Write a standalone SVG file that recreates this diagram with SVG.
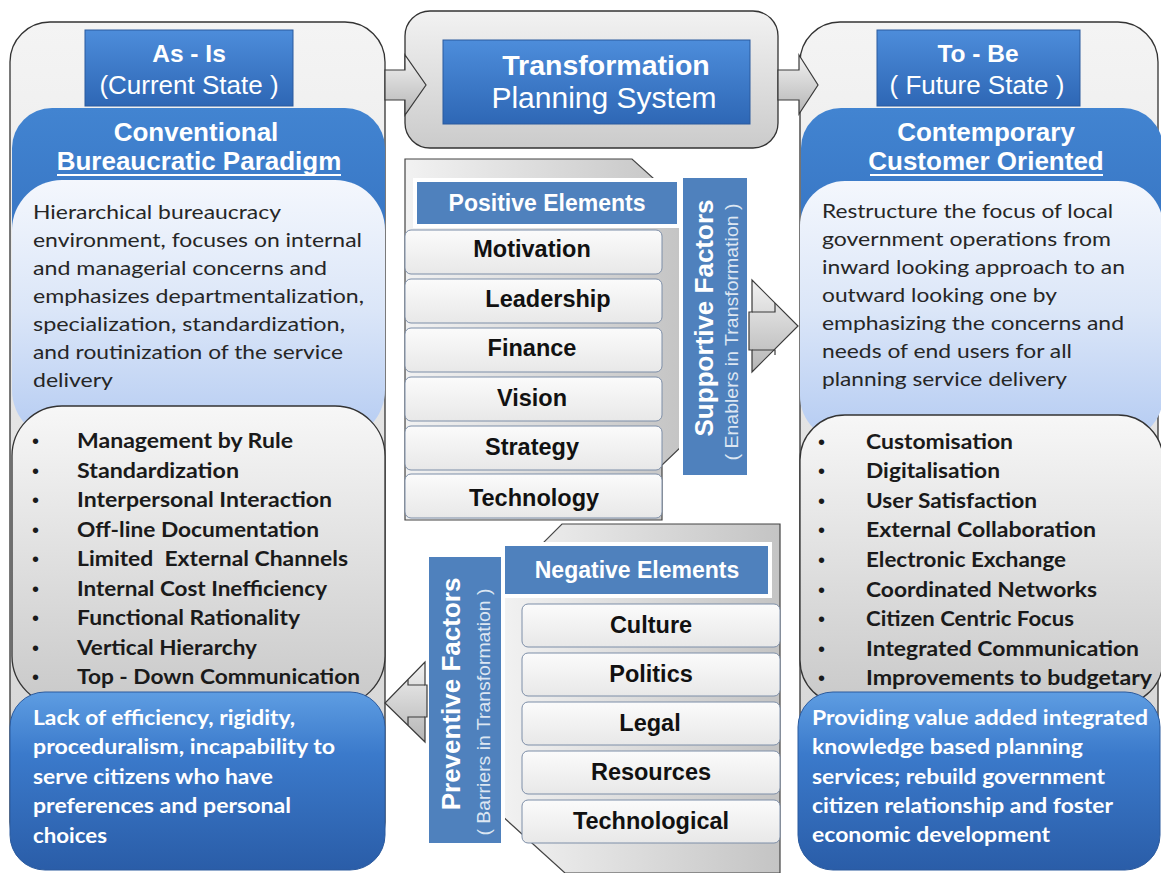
<svg xmlns="http://www.w3.org/2000/svg" width="1161" height="873" viewBox="0 0 1161 873">
<defs>
<linearGradient id="gOuter" x1="0" y1="0" x2="0" y2="1"><stop offset="0" stop-color="#f4f4f4"/><stop offset="1" stop-color="#d2d2d2"/></linearGradient>
<linearGradient id="gTop" x1="0" y1="0" x2="0" y2="1"><stop offset="0" stop-color="#f2f2f2"/><stop offset="1" stop-color="#cbcbcb"/></linearGradient>
<linearGradient id="gBlue" x1="0" y1="0" x2="0" y2="1"><stop offset="0" stop-color="#4d8ddb"/><stop offset="1" stop-color="#2e67b5"/></linearGradient>
<linearGradient id="gPanel" x1="0" y1="0" x2="0" y2="1"><stop offset="0" stop-color="#4284d1"/><stop offset="1" stop-color="#3572c0"/></linearGradient>
<linearGradient id="gLight" x1="0" y1="0" x2="0" y2="1"><stop offset="0" stop-color="#f4f7fd"/><stop offset="0.5" stop-color="#dbe6f8"/><stop offset="1" stop-color="#b4cbf2"/></linearGradient>
<linearGradient id="gGray" x1="0" y1="0" x2="0" y2="1"><stop offset="0" stop-color="#f7f7f7"/><stop offset="1" stop-color="#c9c9c9"/></linearGradient>
<linearGradient id="gBox" x1="0" y1="0" x2="0" y2="1"><stop offset="0" stop-color="#5e9de2"/><stop offset="0.35" stop-color="#3b7acb"/><stop offset="1" stop-color="#2a5da8"/></linearGradient>
<linearGradient id="gElem" x1="0" y1="0" x2="0" y2="1"><stop offset="0" stop-color="#fbfbfb"/><stop offset="1" stop-color="#e8e8e8"/></linearGradient>
<linearGradient id="gBack" x1="0" y1="0" x2="1" y2="0"><stop offset="0" stop-color="#f2f2f2"/><stop offset="1" stop-color="#c4c4c4"/></linearGradient>
<linearGradient id="gArrow" x1="0" y1="0" x2="0" y2="1"><stop offset="0" stop-color="#f2f2f2"/><stop offset="1" stop-color="#b5b5b5"/></linearGradient>
</defs>
<style>
.ar{font-family:"Liberation Sans",Arial,sans-serif}
.b{font-weight:bold}
.w{fill:#ffffff}
.k{fill:#111111}
.c{text-anchor:middle}
.body{font-family:Lato,"Liberation Sans",sans-serif;font-size:20px;fill:#262626}
.list{font-family:Lato,"Liberation Sans",sans-serif;font-size:21px;font-weight:bold;fill:#1a1a1a}
.bul{font-family:"Liberation Sans",Arial,sans-serif;font-size:20px;fill:#1a1a1a}
.btm{font-family:Lato,"Liberation Sans",sans-serif;font-size:21px;font-weight:bold;fill:#ffffff}
.elem{fill:url(#gElem);stroke:#7d8ea8;stroke-width:1}
.hdr{fill:#4f81bd;stroke:#ffffff;stroke-width:4}
.arrow{fill:url(#gArrow);stroke:#3a3a3a;stroke-width:1.2;stroke-linejoin:miter}
.notch{fill:none;stroke:#3a3a3a;stroke-width:1.2}
</style>

<g id="as-is">
<rect x="10" y="22" width="375" height="840" rx="40" fill="url(#gOuter)" stroke="#333" stroke-width="1.3"/>
<rect x="85" y="30" width="208" height="76" fill="url(#gBlue)" stroke="#2a5a9e"/>
<text class="ar b w c" x="189" y="62" font-size="24.5">As - Is</text>
<text class="ar w c" x="189" y="94" font-size="26">(Current State )</text>
<rect x="12" y="108" width="373" height="160" rx="40" fill="url(#gPanel)"/>
<text class="ar b w c" x="196" y="141" font-size="26">Conventional</text>
<text class="ar b w c" x="199" y="170" font-size="26">Bureaucratic Paradigm</text>
<line x1="57" y1="175" x2="341" y2="175" stroke="#ffffff" stroke-width="2"/>
<rect x="12" y="180" width="373" height="260" rx="50" fill="url(#gLight)"/>
<text class="body" x="33" y="219" textLength="248" lengthAdjust="spacingAndGlyphs">Hierarchical bureaucracy</text>
<text class="body" x="33" y="247" textLength="329" lengthAdjust="spacingAndGlyphs">environment, focuses on internal</text>
<text class="body" x="33" y="275" textLength="294" lengthAdjust="spacingAndGlyphs">and managerial concerns and</text>
<text class="body" x="33" y="303" textLength="331" lengthAdjust="spacingAndGlyphs">emphasizes departmentalization,</text>
<text class="body" x="33" y="331" textLength="312" lengthAdjust="spacingAndGlyphs">specialization, standardization,</text>
<text class="body" x="33" y="359" textLength="310" lengthAdjust="spacingAndGlyphs">and routinization of the service</text>
<text class="body" x="33" y="387" textLength="80" lengthAdjust="spacingAndGlyphs">delivery</text>
<rect x="12" y="406" width="373" height="300" rx="50" fill="url(#gGray)" stroke="#333" stroke-width="1.3"/>
<text class="bul" x="32" y="448">•</text>
<text class="bul" x="32" y="478">•</text>
<text class="bul" x="32" y="507">•</text>
<text class="bul" x="32" y="537">•</text>
<text class="bul" x="32" y="566">•</text>
<text class="bul" x="32" y="596">•</text>
<text class="bul" x="32" y="625">•</text>
<text class="bul" x="32" y="655">•</text>
<text class="bul" x="32" y="684">•</text>
<text class="list" x="77" y="448" textLength="216" lengthAdjust="spacingAndGlyphs">Management by Rule</text>
<text class="list" x="77" y="478" textLength="162" lengthAdjust="spacingAndGlyphs">Standardization</text>
<text class="list" x="77" y="507" textLength="255" lengthAdjust="spacingAndGlyphs">Interpersonal Interaction</text>
<text class="list" x="77" y="537" textLength="242" lengthAdjust="spacingAndGlyphs">Off-line Documentation</text>
<text class="list" x="77" y="566" textLength="271" lengthAdjust="spacingAndGlyphs">Limited&#160; External Channels</text>
<text class="list" x="77" y="596" textLength="250" lengthAdjust="spacingAndGlyphs">Internal Cost Inefficiency</text>
<text class="list" x="77" y="625" textLength="223" lengthAdjust="spacingAndGlyphs">Functional Rationality</text>
<text class="list" x="77" y="655" textLength="180" lengthAdjust="spacingAndGlyphs">Vertical Hierarchy</text>
<text class="list" x="77" y="684" textLength="283" lengthAdjust="spacingAndGlyphs">Top - Down Communication</text>
<rect x="10" y="692" width="375" height="178" rx="35" fill="url(#gBox)" stroke="#2a5a9e"/>
<text class="btm" x="33" y="725" textLength="262" lengthAdjust="spacingAndGlyphs">Lack of efficiency, rigidity,</text>
<text class="btm" x="33" y="754" textLength="302" lengthAdjust="spacingAndGlyphs">proceduralism, incapability to</text>
<text class="btm" x="33" y="784" textLength="240" lengthAdjust="spacingAndGlyphs">serve citizens who have</text>
<text class="btm" x="33" y="813" textLength="258" lengthAdjust="spacingAndGlyphs">preferences and personal</text>
<text class="btm" x="33" y="843" textLength="74" lengthAdjust="spacingAndGlyphs">choices</text>
</g>

<g id="to-be">
<rect x="800" y="22" width="358" height="840" rx="40" fill="url(#gOuter)" stroke="#333" stroke-width="1.3"/>
<rect x="877" y="30" width="203" height="76" fill="url(#gBlue)" stroke="#2a5a9e"/>
<text class="ar b w c" x="978" y="62" font-size="24.5">To - Be</text>
<text class="ar w c" x="977" y="94" font-size="26">( Future State )</text>
<rect x="801" y="108" width="362" height="160" rx="40" fill="url(#gPanel)"/>
<text class="ar b w c" x="986" y="141" font-size="26">Contemporary</text>
<text class="ar b w c" x="986" y="170" font-size="26">Customer Oriented</text>
<line x1="870" y1="175" x2="1103" y2="175" stroke="#ffffff" stroke-width="2"/>
<rect x="800" y="181" width="363" height="260" rx="45" fill="url(#gLight)"/>
<text class="body" x="822" y="218" textLength="291" lengthAdjust="spacingAndGlyphs">Restructure the focus of local</text>
<text class="body" x="822" y="246" textLength="289" lengthAdjust="spacingAndGlyphs">government operations from</text>
<text class="body" x="822" y="274" textLength="303" lengthAdjust="spacingAndGlyphs">inward looking approach to an</text>
<text class="body" x="822" y="302" textLength="235" lengthAdjust="spacingAndGlyphs">outward looking one by</text>
<text class="body" x="822" y="330" textLength="302" lengthAdjust="spacingAndGlyphs">emphasizing the concerns and</text>
<text class="body" x="822" y="358" textLength="250" lengthAdjust="spacingAndGlyphs">needs of end users for all</text>
<text class="body" x="822" y="386" textLength="245" lengthAdjust="spacingAndGlyphs">planning service delivery</text>
<rect x="800" y="415" width="363" height="290" rx="45" fill="url(#gGray)" stroke="#333" stroke-width="1.3"/>
<text class="bul" x="818" y="449">•</text>
<text class="bul" x="818" y="478">•</text>
<text class="bul" x="818" y="508">•</text>
<text class="bul" x="818" y="537">•</text>
<text class="bul" x="818" y="567">•</text>
<text class="bul" x="818" y="597">•</text>
<text class="bul" x="818" y="626">•</text>
<text class="bul" x="818" y="656">•</text>
<text class="bul" x="818" y="685">•</text>
<text class="list" x="866" y="449" textLength="147" lengthAdjust="spacingAndGlyphs">Customisation</text>
<text class="list" x="866" y="478" textLength="134" lengthAdjust="spacingAndGlyphs">Digitalisation</text>
<text class="list" x="866" y="508" textLength="171" lengthAdjust="spacingAndGlyphs">User Satisfaction</text>
<text class="list" x="866" y="537" textLength="230" lengthAdjust="spacingAndGlyphs">External Collaboration</text>
<text class="list" x="866" y="567" textLength="200" lengthAdjust="spacingAndGlyphs">Electronic Exchange</text>
<text class="list" x="866" y="597" textLength="231" lengthAdjust="spacingAndGlyphs">Coordinated Networks</text>
<text class="list" x="866" y="626" textLength="208" lengthAdjust="spacingAndGlyphs">Citizen Centric Focus</text>
<text class="list" x="866" y="656" textLength="273" lengthAdjust="spacingAndGlyphs">Integrated Communication</text>
<text class="list" x="866" y="685" textLength="286" lengthAdjust="spacingAndGlyphs">Improvements to budgetary</text>
<rect x="798" y="692" width="362" height="178" rx="35" fill="url(#gBox)" stroke="#2a5a9e"/>
<text class="btm" x="812" y="725" textLength="336" lengthAdjust="spacingAndGlyphs">Providing value added integrated</text>
<text class="btm" x="812" y="754" textLength="271" lengthAdjust="spacingAndGlyphs">knowledge based planning</text>
<text class="btm" x="812" y="784" textLength="293" lengthAdjust="spacingAndGlyphs">services; rebuild government</text>
<text class="btm" x="812" y="813" textLength="301" lengthAdjust="spacingAndGlyphs">citizen relationship and foster</text>
<text class="btm" x="812" y="842" textLength="238" lengthAdjust="spacingAndGlyphs">economic development</text>
</g>

<g id="transformation">
<rect x="405" y="11" width="373" height="137" rx="25" fill="url(#gTop)" stroke="#333" stroke-width="1.3"/>
<rect x="443" y="40" width="307" height="84" fill="url(#gBlue)" stroke="#2a5a9e"/>
<text class="ar b w c" x="606" y="75" font-size="28.5">Transformation</text>
<text class="ar w c" x="604" y="108" font-size="30">Planning System</text>
</g>

<g id="positive-elements">
<polygon points="405,159 632,159 683,205 683,445 662,465 662,520 405,520" fill="url(#gBack)" stroke="#444" stroke-width="1.2"/>
<rect class="elem" x="405" y="230" width="257" height="44" rx="6"/>
<rect class="elem" x="405" y="279" width="257" height="44" rx="6"/>
<rect class="elem" x="405" y="328" width="257" height="44" rx="6"/>
<rect class="elem" x="405" y="377" width="257" height="44" rx="6"/>
<rect class="elem" x="405" y="426" width="257" height="44" rx="6"/>
<rect class="elem" x="405" y="474" width="257" height="44" rx="6"/>
<rect class="hdr" x="415" y="180" width="264" height="46"/>
<text class="ar b w c" x="547" y="211" font-size="23">Positive Elements</text>
<text class="ar b k c" x="532" y="257" font-size="23.5">Motivation</text>
<text class="ar b k c" x="548" y="307" font-size="23.5">Leadership</text>
<text class="ar b k c" x="532" y="356" font-size="23.5">Finance</text>
<text class="ar b k c" x="532" y="406" font-size="23.5">Vision</text>
<text class="ar b k c" x="532" y="455" font-size="23.5">Strategy</text>
<text class="ar b k c" x="534" y="506" font-size="23.5">Technology</text>
</g>

<g id="supportive-factors">
<rect class="hdr" x="681" y="176" width="68" height="301"/>
<text class="ar b w c" transform="translate(713,318) rotate(-90)" font-size="26">Supportive Factors</text>
<text class="ar c" transform="translate(738,332) rotate(-90)" font-size="19" fill="#dce6f2" textLength="257" lengthAdjust="spacingAndGlyphs">( Enablers in Transformation  )</text>
</g>

<g id="negative-elements">
<polygon points="501,585 562,524 780,524 780,873 565,873 501,815" fill="url(#gBack)" stroke="#444" stroke-width="1.2"/>
<rect class="elem" x="522" y="604" width="258" height="43" rx="6"/>
<rect class="elem" x="522" y="653" width="258" height="43" rx="6"/>
<rect class="elem" x="522" y="702" width="258" height="43" rx="6"/>
<rect class="elem" x="522" y="751" width="258" height="43" rx="6"/>
<rect class="elem" x="522" y="800" width="258" height="43" rx="6"/>
<rect class="hdr" x="503" y="544" width="267" height="52"/>
<text class="ar b w c" x="637" y="578" font-size="23">Negative Elements</text>
<text class="ar b k c" x="651" y="633" font-size="23.5">Culture</text>
<text class="ar b k c" x="651" y="682" font-size="23.5">Politics</text>
<text class="ar b k c" x="650" y="731" font-size="23.5">Legal</text>
<text class="ar b k c" x="651" y="780" font-size="23.5">Resources</text>
<text class="ar b k c" x="651" y="829" font-size="23.5">Technological</text>
</g>

<g id="preventive-factors">
<rect class="hdr" x="427" y="555" width="76" height="290"/>
<text class="ar b w c" transform="translate(460,694) rotate(-90)" font-size="26">Preventive Factors</text>
<text class="ar c" transform="translate(490,712) rotate(-90)" font-size="19" fill="#dce6f2" textLength="247" lengthAdjust="spacingAndGlyphs">( Barriers in Transformation  )</text>
</g>

<g id="connectors">
<polygon class="arrow" points="385,70 405,70 405,55 426,85 405,115 405,100 385,100"/>
<polygon class="arrow" points="778,70 799,70 799,55 818,85 799,114 799,100 778,100"/>
<polygon class="arrow" points="749,312 752,312 752,280 798,326 752,372 752,350 749,350"/>
<path class="notch" d="M752,312 H775 V303 M752,350 H775 V355"/>
<polygon class="arrow" points="427,685 425,685 425,662 385,703 425,742 425,717 427,717"/>
<path class="notch" d="M425,685 H408 V680 M425,717 H408 V725"/>
</g>
</svg>
